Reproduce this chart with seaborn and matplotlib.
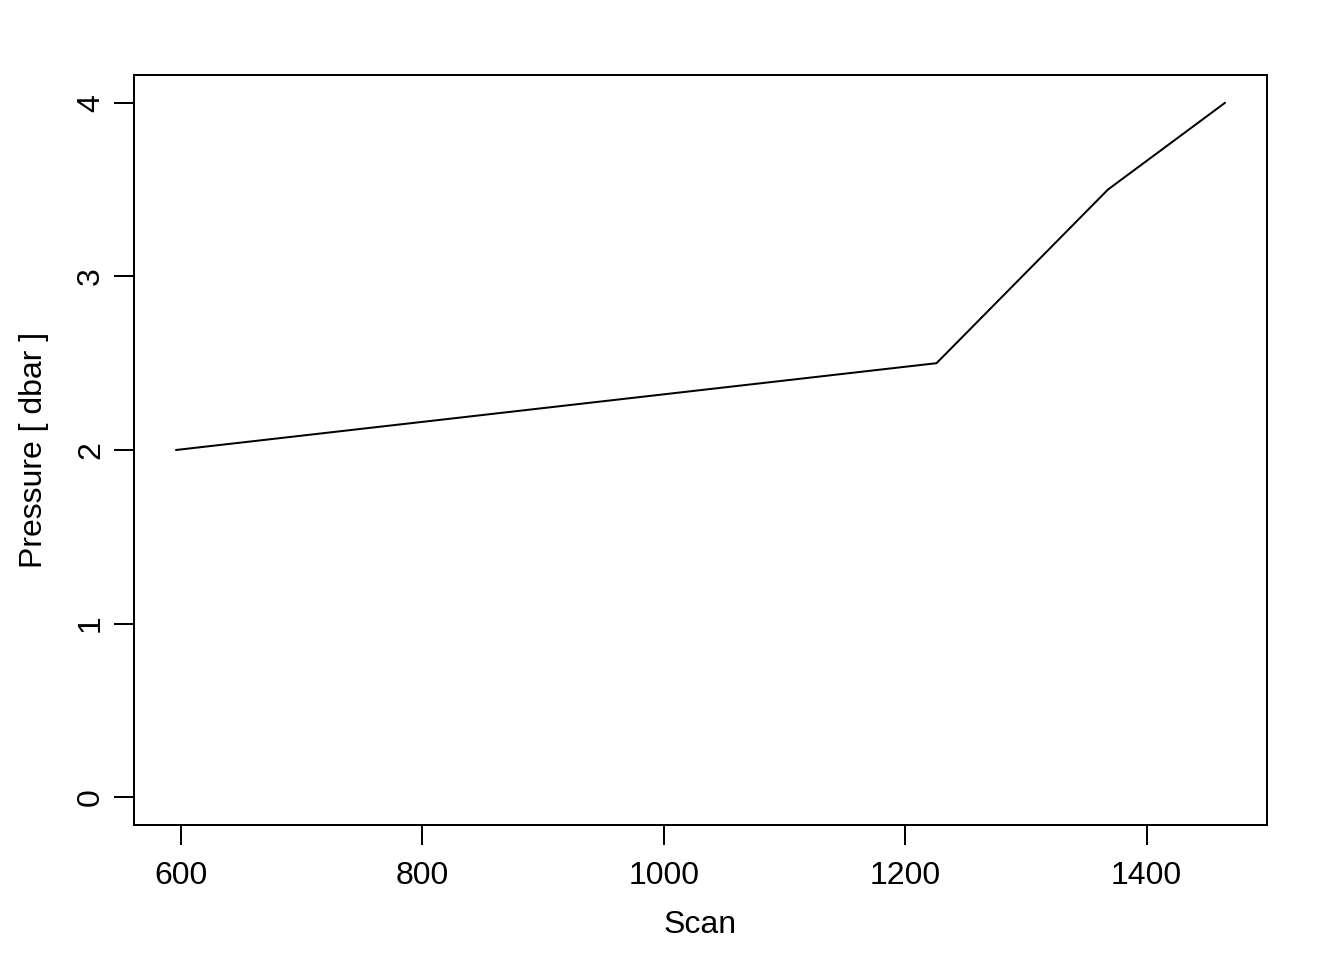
import matplotlib
matplotlib.use("Agg")
import matplotlib.pyplot as plt
import seaborn as sns
import pandas as pd

# ---------------------------------------------------------------------------
# Data
# ---------------------------------------------------------------------------

scan     = [596, 1226, 1368, 1465]
pressure = [2.0, 2.5, 3.5, 4.0]

x_ticks = [600, 800, 1000, 1200, 1400]
y_ticks = [0, 1, 2, 3, 4]

df = pd.DataFrame({"Scan": scan, "Pressure": pressure})

# ---------------------------------------------------------------------------
# Plot
# ---------------------------------------------------------------------------

sns.set_theme(style="ticks")
plt.rcParams["font.family"] = ["Liberation Sans", "DejaVu Sans"]

fig = plt.figure(figsize=(7, 5), dpi=192)
ax = fig.add_axes([134 / 1344, 1 - 825 / 960, (1267 - 134) / 1344, (825 - 75) / 960])

sns.lineplot(data=df, x="Scan", y="Pressure", sort=False, color="black",
             linewidth=0.75, ax=ax)

# R-style 4% padding
xr = max(scan) - min(scan)
ax.set_xlim(min(scan) - 0.04 * xr, max(scan) + 0.04 * xr)
ax.set_ylim(-0.16, 4.16)

ax.set_xticks(x_ticks)
ax.set_yticks(y_ticks)
ax.set_yticklabels([str(v) for v in y_ticks], rotation=90, va="center")

for s in ax.spines.values():
    s.set_visible(True)
    s.set_linewidth(0.75)
    s.set_color("black")

ax.tick_params(axis="x", direction="out", length=7.5, width=0.75,
               colors="black", labelsize=12, pad=6)
ax.tick_params(axis="y", direction="out", length=7.5, width=0.75,
               colors="black", labelsize=12, pad=3)

ax.set_xlabel("Scan", fontsize=12, labelpad=7, color="black")
ax.set_ylabel("Pressure [ dbar ]", fontsize=12, labelpad=10, color="black")

fig.savefig("out.png", dpi=192)
plt.close(fig)
